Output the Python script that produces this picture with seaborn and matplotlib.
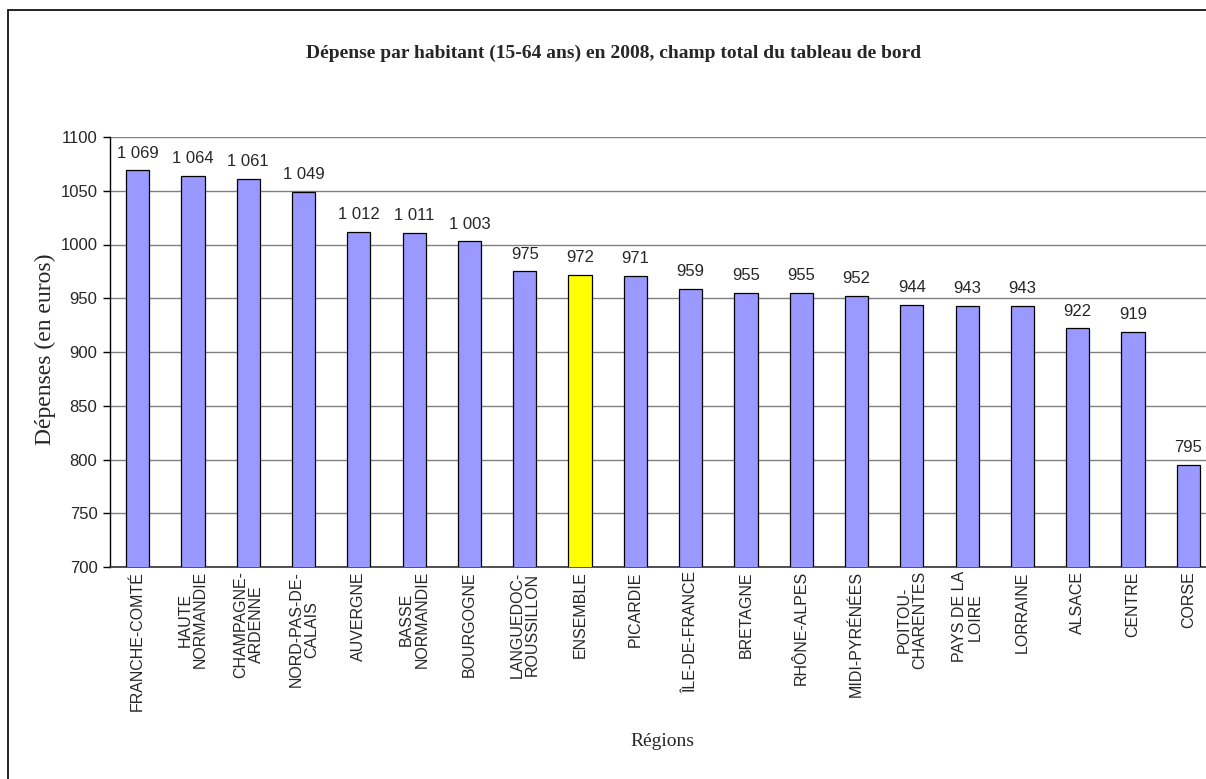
import matplotlib
matplotlib.use("Agg")
import matplotlib.pyplot as plt
from matplotlib.patches import Rectangle
import seaborn as sns

# Regional spending per inhabitant aged 15-64, 2008 (euros)
regions = [
    "FRANCHE-COMTÉ", "HAUTE\nNORMANDIE", "CHAMPAGNE-\nARDENNE", "NORD-PAS-DE-\nCALAIS",
    "AUVERGNE", "BASSE\nNORMANDIE", "BOURGOGNE", "LANGUEDOC-\nROUSSILLON",
    "ENSEMBLE", "PICARDIE", "ÎLE-DE-FRANCE", "BRETAGNE", "RHÔNE-ALPES",
    "MIDI-PYRÉNÉES", "POITOU-\nCHARENTES", "PAYS DE LA\nLOIRE", "LORRAINE",
    "ALSACE", "CENTRE", "CORSE",
]
depenses = [1069, 1064, 1061, 1049, 1012, 1011, 1003, 975, 972, 971, 959,
            955, 955, 952, 944, 943, 943, 922, 919, 795]
highlight = "ENSEMBLE"

title = "Dépense par habitant (15-64 ans) en 2008, champ total du tableau de bord"
ylabel = "Dépenses (en euros)"
xlabel = "Régions"
yticks = [700, 750, 800, 850, 900, 950, 1000, 1050, 1100]

BAR = "#9999FF"
HIGHLIGHT = "#FFFF00"

sns.set_style("white")
plt.rcParams["font.family"] = ["Liberation Sans", "DejaVu Sans"]

W, H = 1206, 779
fig = plt.figure(figsize=(W / 100, H / 100), dpi=100)
fig.patch.set_facecolor("white")

# outer chart frame (runs past the right and bottom edges)
fig.patches.append(Rectangle((8 / W, -0.05), 1.2, 1 - 10 / H + 0.05,
                             transform=fig.transFigure, fill=False,
                             edgecolor="black", linewidth=1.2, zorder=0))

n_slots = len(regions)
slot_px = 55.3
ax_left, ax_top, ax_bottom = 110, 137, 567
ax = fig.add_axes([ax_left / W, 1 - ax_bottom / H,
                   n_slots * slot_px / W, (ax_bottom - ax_top) / H])

palette = {r: (HIGHLIGHT if r == highlight else BAR) for r in regions}
sns.barplot(x=regions, y=depenses, hue=regions, palette=palette, legend=False,
            width=0.42, edgecolor="black", linewidth=0.9, saturation=1,
            ax=ax, zorder=3)

ax.set_xlim(-0.5, n_slots - 0.5)
ax.set_ylim(700, 1100)
ax.set_yticks(yticks)
ax.set_yticklabels([str(v) for v in yticks], fontsize=12)
ax.yaxis.grid(True, color="#808080", linewidth=1.0, zorder=0)
ax.xaxis.grid(False)
ax.set_axisbelow(True)

# category labels at bar centres, tick marks on slot boundaries
ax.set_xticks(range(len(regions)))
ax.set_xticklabels(regions, rotation=90, fontsize=11.5, va="top", ha="center",
                   multialignment="center", linespacing=1.05)
ax.tick_params(axis="x", which="major", length=0, pad=3)
ax.set_xticks([i - 0.5 for i in range(n_slots + 1)], minor=True)
ax.tick_params(axis="x", which="minor", length=5, width=1, color="black",
               direction="out")
ax.tick_params(axis="y", which="major", length=5, width=1, color="black",
               direction="out", left=True, pad=4)

for side in ("top", "right"):
    ax.spines[side].set_visible(False)
ax.spines["left"].set_color("black")
ax.spines["left"].set_linewidth(1.0)
ax.spines["bottom"].set_color("#333333")
ax.spines["bottom"].set_linewidth(1.2)

ax.set_xlabel("")
ax.set_ylabel("")

# value labels above each bar, space as thousands separator
labels = [f"{v:,}".replace(",", " ") for v in depenses]
bars = sorted((p for cont in ax.containers for p in cont), key=lambda p: p.get_x())
for p, lab in zip(bars, labels):
    ax.annotate(lab, (p.get_x() + p.get_width() / 2, p.get_height()),
                xytext=(0, 7), textcoords="offset points",
                ha="center", va="bottom", fontsize=12, zorder=5)

serif = ["Liberation Serif", "DejaVu Serif"]
fig.text(614 / W, 1 - 53 / H, title, ha="center", va="center",
         fontsize=14, fontweight="bold", family=serif)
fig.text(45 / W, 1 - 349 / H, ylabel, rotation=90, ha="center", va="center",
         fontsize=17, family=serif)
fig.text(662 / W, 1 - 742 / H, xlabel, ha="center", va="center",
         fontsize=14, family=serif)

fig.savefig("out.png", dpi=100, facecolor="white")
